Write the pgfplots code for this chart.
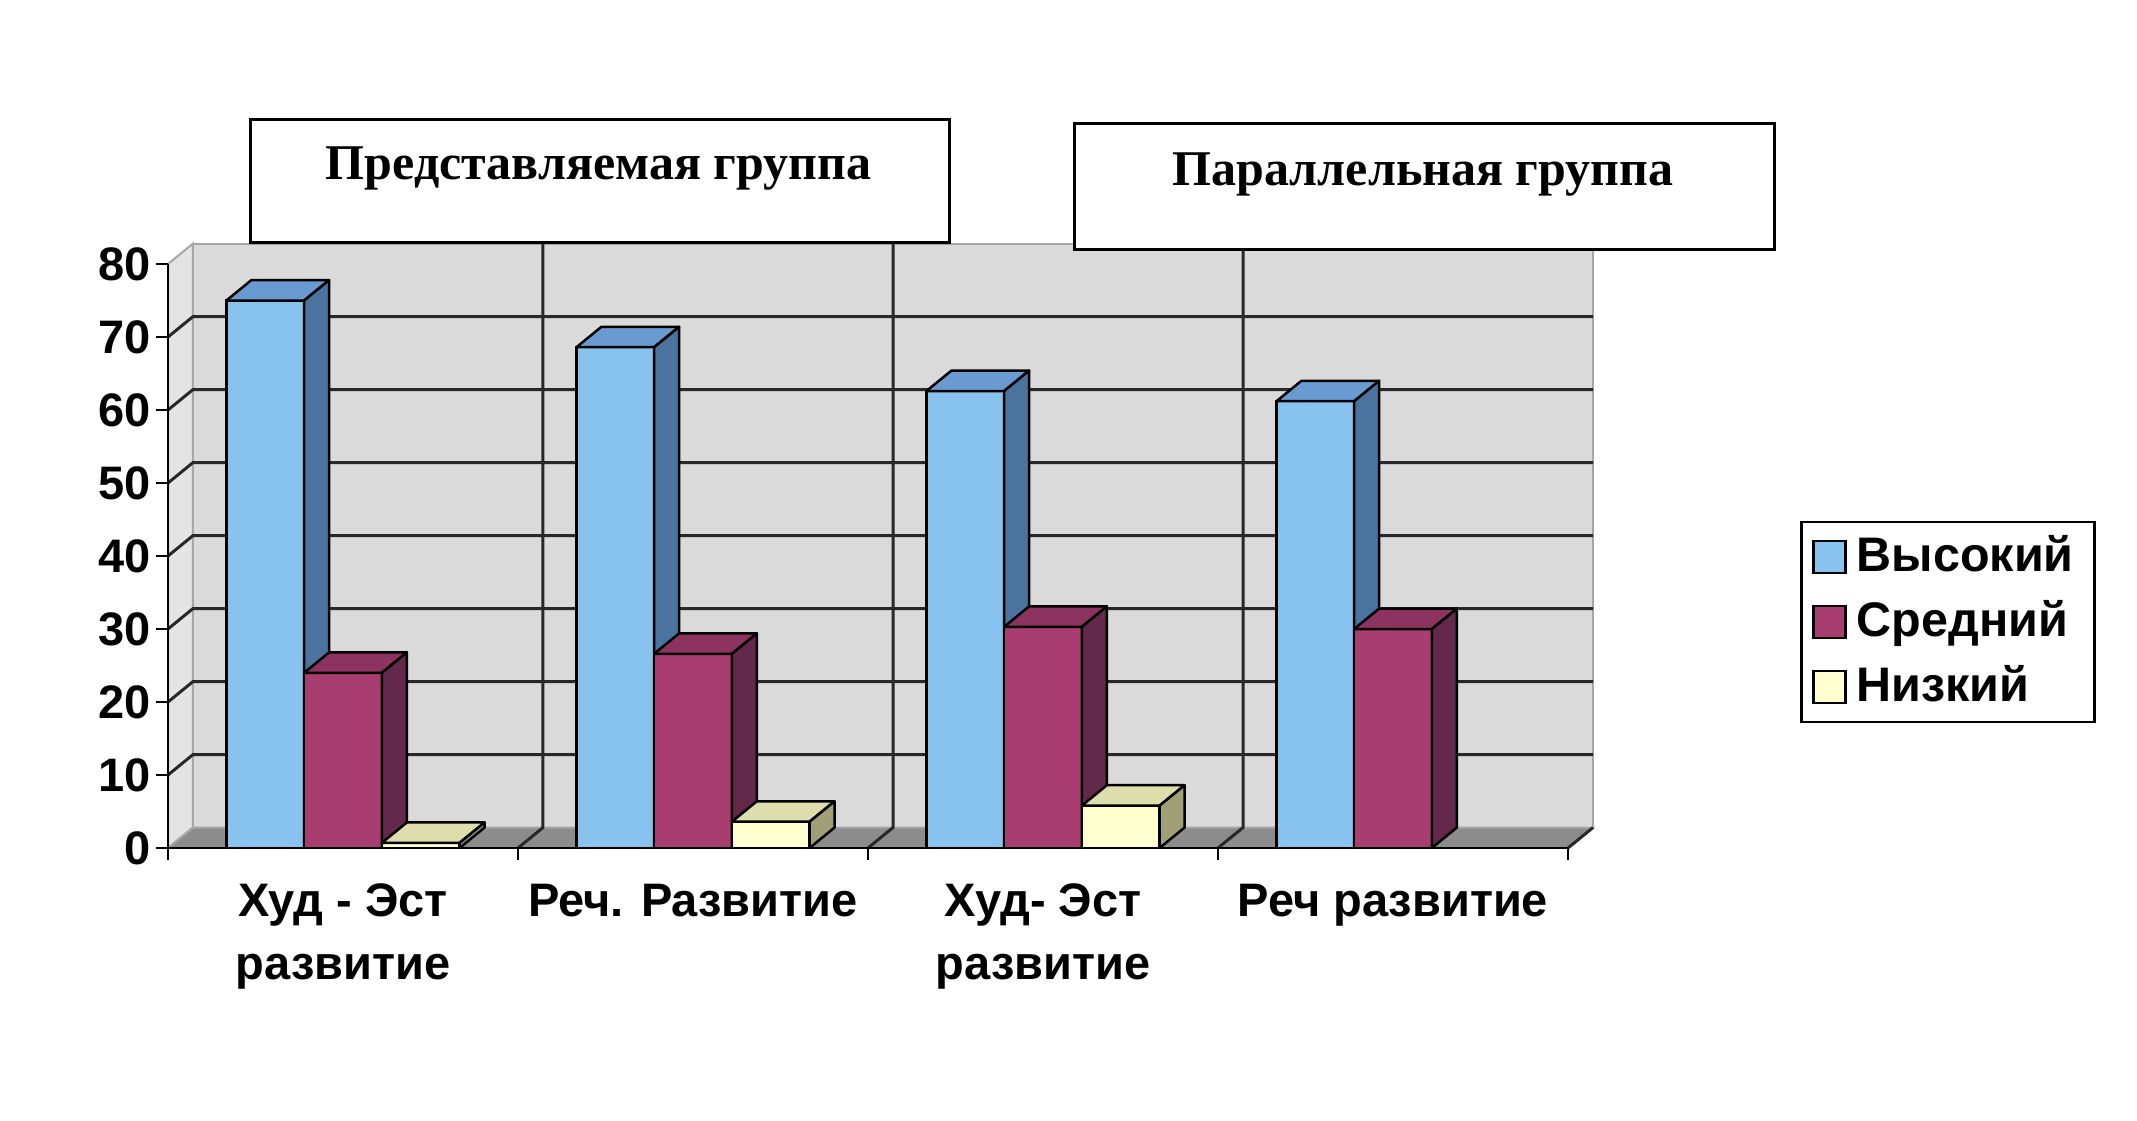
\documentclass[border=0pt]{standalone}
\usepackage{pgfplots}
\pgfplotsset{compat=1.18}
\usepackage{fontspec}
\setmainfont{Liberation Sans}
\newfontfamily\titlefont{Liberation Serif}
\definecolor{bF}{RGB}{135,195,238}
\definecolor{bT}{RGB}{105,155,210}
\definecolor{bS}{RGB}{75,115,160}
\definecolor{rF}{RGB}{168,62,112}
\definecolor{rT}{RGB}{140,52,95}
\definecolor{rS}{RGB}{100,40,75}
\definecolor{yF}{RGB}{255,255,208}
\definecolor{yT}{RGB}{222,222,172}
\definecolor{yS}{RGB}{160,160,118}
\definecolor{wallc}{RGB}{218,218,218}
\definecolor{lwallc}{RGB}{228,228,228}
\definecolor{floorc}{RGB}{140,140,140}
\definecolor{gridc}{RGB}{40,40,40}
\newcommand{\cube}[4]{%
 \pgfmathsetmacro\xa{#1}%
 \pgfmathsetmacro\xb{#1+0.222}%
 \pgfmathsetmacro\xc{#1+0.0714}%
 \pgfmathsetmacro\xd{#1+0.2934}%
 \pgfmathsetmacro\yt{#2+2.8}%
 \edef\tmp{\noexpand\addplot[forget plot,draw=black,line width=0.5pt,line join=round,fill=#3] coordinates {(\xa,#2)(\xb,#2)(\xd,\yt)(\xc,\yt)(\xa,#2)};
 \noexpand\addplot[forget plot,draw=black,line width=0.5pt,line join=round,fill=#4] coordinates {(\xb,0)(\xb,#2)(\xd,\yt)(\xd,2.8)(\xb,0)};}%
 \tmp}
\pgfplotsset{lg/.style={legend image code/.code={\draw[##1,draw=black,line width=0.5pt] (0pt,-3.2pt) rectangle (6.4pt,3.2pt);}}}
\begin{document}
\begin{tikzpicture}
\path[use as bounding box] (-33.6pt,-54.6pt) rectangle (393.8pt,169.6pt);
\begin{axis}[
  at={(0,0)}, anchor=south west,
  scale only axis, width=280pt, height=116.8pt,
  xmin=-0.5, xmax=3.5, ymin=0, ymax=80,
  clip=false, axis on top,
  axis x line*=bottom, axis y line*=left,
  axis line style={black, line width=0.5pt},
  ytick={0,10,...,80},
  xtick={-0.5,0.5,1.5,2.5,3.5}, xticklabels={},
  extra x ticks={0,1,2,3},
  extra x tick labels={{Худ - Эст\\развитие},{Реч. Развитие},{Худ- Эст\\развитие},{Реч развитие}},
  extra x tick style={major tick length=0pt},
  tick align=outside, major tick length=2.4pt,
  tick style={black, line width=0.5pt},
  /pgf/number format/assume math mode=true,
  ticklabel style={font=\bfseries\fontsize{9.4}{12.6}\selectfont},
  yticklabel style={xshift=2.5pt},
  xticklabel style={align=center, yshift=-3.7pt},
  legend style={at={(1.1657,0.56)}, anchor=north west, draw=black, line width=0.5pt,
    font=\bfseries\fontsize{9.7}{11}\selectfont, inner xsep=2.2pt, inner ysep=0.5pt,
    row sep=0pt, nodes={inner ysep=2.1pt, text height=7.2pt, text depth=1.6pt, inner xsep=2pt}},
  legend cell align=left,
]
% walls and floor
\addplot[forget plot, fill=lwallc, draw=gray!70, line width=0.4pt] coordinates {(-0.5,0)(-0.5,80)(-0.4286,82.8)(-0.4286,2.8)(-0.5,0)};
\addplot[forget plot, fill=wallc, draw=gray!70, line width=0.4pt] coordinates {(-0.4286,2.8)(3.5714,2.8)(3.5714,82.8)(-0.4286,82.8)(-0.4286,2.8)};
\addplot[forget plot, fill=floorc, draw=gray!70, line width=0.4pt] coordinates {(-0.5,0)(3.5,0)(3.5714,2.8)(-0.4286,2.8)(-0.5,0)};
% grid on back wall
\addplot[forget plot, gridc, line width=0.6pt] coordinates {(-0.5,10)(-0.4286,12.8)(3.5714,12.8)};
\addplot[forget plot, gridc, line width=0.6pt] coordinates {(-0.5,20)(-0.4286,22.8)(3.5714,22.8)};
\addplot[forget plot, gridc, line width=0.6pt] coordinates {(-0.5,30)(-0.4286,32.8)(3.5714,32.8)};
\addplot[forget plot, gridc, line width=0.6pt] coordinates {(-0.5,40)(-0.4286,42.8)(3.5714,42.8)};
\addplot[forget plot, gridc, line width=0.6pt] coordinates {(-0.5,50)(-0.4286,52.8)(3.5714,52.8)};
\addplot[forget plot, gridc, line width=0.6pt] coordinates {(-0.5,60)(-0.4286,62.8)(3.5714,62.8)};
\addplot[forget plot, gridc, line width=0.6pt] coordinates {(-0.5,70)(-0.4286,72.8)(3.5714,72.8)};
\addplot[forget plot, gridc, line width=0.6pt] coordinates {(0.5,0)(0.5714,2.8)(0.5714,82.8)};
\addplot[forget plot, gridc, line width=0.6pt] coordinates {(1.5,0)(1.5714,2.8)(1.5714,82.8)};
\addplot[forget plot, gridc, line width=0.6pt] coordinates {(2.5,0)(2.5714,2.8)(2.5714,82.8)};
\addplot[forget plot, gridc, line width=0.6pt] coordinates {(3.5,0)(3.5714,2.8)};
% Высокий
\addplot[ybar, bar width=0.222, bar shift=-0.222, fill=bF, draw=black, line width=0.5pt, lg]
  coordinates {(0,75)(1,68.6)(2,62.6)(3,61.2)};
\addlegendentry{Высокий}
\cube{-0.333}{75}{bT}{bS}
\cube{0.667}{68.6}{bT}{bS}
\cube{1.667}{62.6}{bT}{bS}
\cube{2.667}{61.2}{bT}{bS}
% Средний
\addplot[ybar, bar width=0.222, bar shift=0, fill=rF, draw=black, line width=0.5pt, lg]
  coordinates {(0,24)(1,26.6)(2,30.3)(3,30)};
\addlegendentry{Средний}
\cube{-0.111}{24}{rT}{rS}
\cube{0.889}{26.6}{rT}{rS}
\cube{1.889}{30.3}{rT}{rS}
\cube{2.889}{30}{rT}{rS}
% Низкий
\addplot[ybar, bar width=0.222, bar shift=0.222, fill=yF, draw=black, line width=0.5pt, lg]
  coordinates {(0,0.7)(1,3.6)(2,5.8)};
\addlegendentry{Низкий}
\cube{0.111}{0.7}{yT}{yS}
\cube{1.111}{3.6}{yT}{yS}
\cube{2.111}{5.8}{yT}{yS}
\end{axis}
% group title boxes
\node[draw=black, fill=white, line width=0.5pt, minimum width=139.8pt, minimum height=24.6pt, inner sep=0pt, anchor=south west] at (16.2pt,120.8pt) {};
\node[anchor=base, inner sep=0pt] at (86.1pt,133.6pt) {\titlefont\bfseries\fontsize{10}{12}\selectfont Представляемая группа};
\node[draw=black, fill=white, line width=0.5pt, minimum width=140pt, minimum height=25.2pt, inner sep=0pt, anchor=south west] at (181pt,119.4pt) {};
\node[anchor=base, inner sep=0pt] at (251pt,132.5pt) {\titlefont\bfseries\fontsize{10}{12}\selectfont Параллельная группа};
\end{tikzpicture}
\end{document}
